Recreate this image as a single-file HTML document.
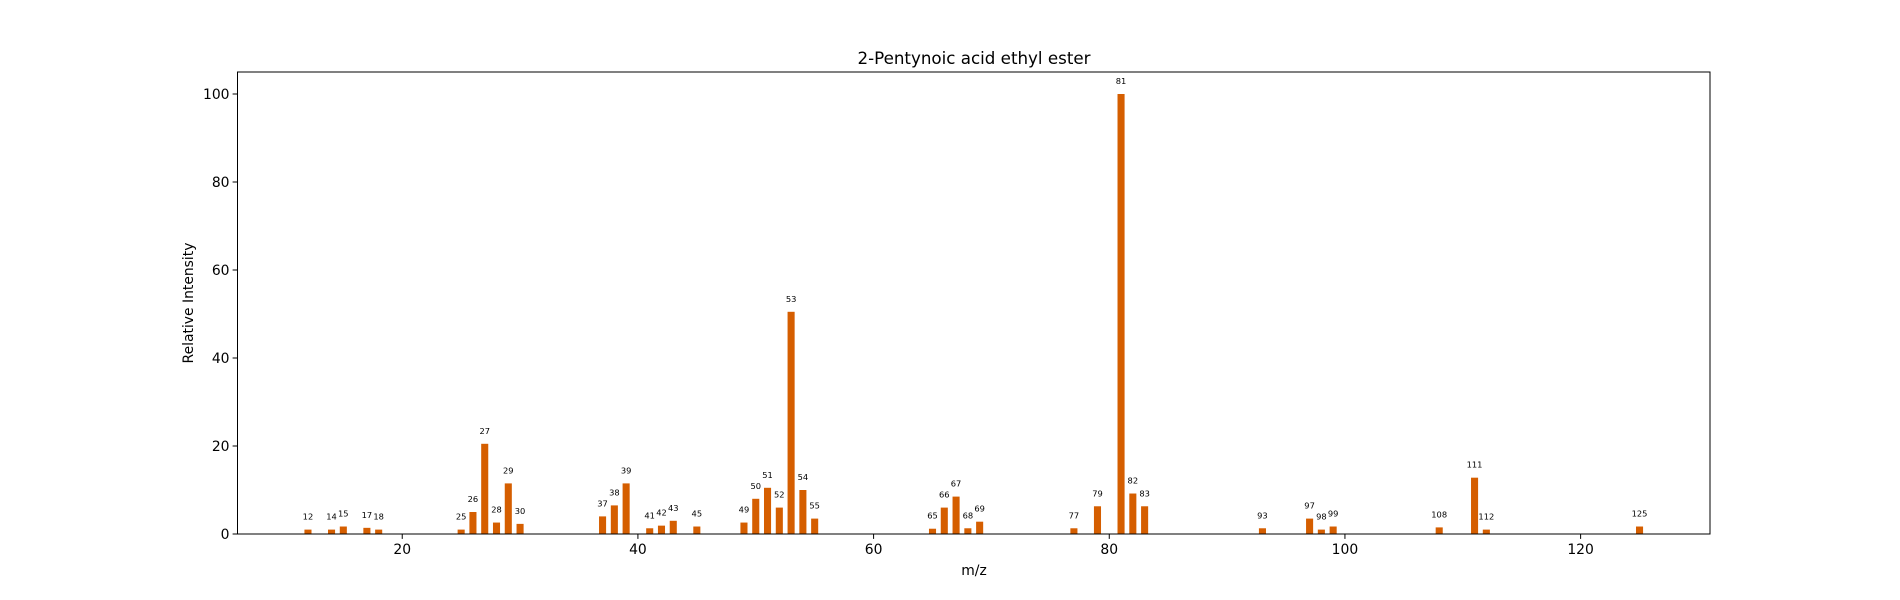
<!DOCTYPE html>
<html><head><meta charset="utf-8"><style>
html,body{margin:0;padding:0;background:#fff;}
svg{display:block;font-family:"DejaVu Sans","Liberation Sans",sans-serif;}
</style></head><body>
<svg id="chart" width="1900" height="600">
<text x="974" y="64" text-anchor="middle" font-size="16.7">2-Pentynoic acid ethyl ester</text>
<g id="bars"></g>
<g id="xticks"></g>
<g id="yticks"></g>
<rect x="237.5" y="72" width="1472.5" height="462" fill="none" stroke="#000" stroke-width="1"/>
<text x="974" y="575" text-anchor="middle" font-size="13.9">m/z</text>
<text x="0" y="0" text-anchor="middle" font-size="13.9" transform="translate(193,303) rotate(-90)">Relative Intensity</text>
</svg>
<script>
const mzValues = [12,14,15,17,18,25,26,27,28,29,30,37,38,39,41,42,43,45,49,50,51,52,53,54,55,65,66,67,68,69,77,79,81,82,83,93,97,98,99,108,111,112,125];
const intensities = [1,1,1.7,1.4,1,1,5,20.5,2.6,11.5,2.3,4,6.5,11.5,1.3,1.9,3,1.7,2.6,8,10.5,6,50.5,10,3.5,1.2,6,8.5,1.3,2.8,1.3,6.3,100,9.2,6.3,1.3,3.5,1,1.7,1.5,12.8,1,1.7];
const xTicks = [20,40,60,80,100,120];
const yTicks = [0,20,40,60,80,100];
const NS='http://www.w3.org/2000/svg';
const L=237.5,R=1710,T=72,B=534;
const barW=0.6;
const xmin=Math.min(...mzValues)-barW/2, xmax=Math.max(...mzValues)+barW/2;
const xm=(xmax-xmin)*0.05;
const x0=xmin-xm, x1=xmax+xm;
const ymax=Math.max(...intensities)*1.05;
const sx=v=>L+(v-x0)/(x1-x0)*(R-L);
const sy=v=>B-v/ymax*(B-T);
const bars=document.getElementById('bars');
mzValues.forEach((m,i)=>{
  const r=document.createElementNS(NS,'rect');
  const xa=sx(m-barW/2), xb=sx(m+barW/2);
  r.setAttribute('x',xa);r.setAttribute('width',xb-xa);
  r.setAttribute('y',sy(intensities[i]));r.setAttribute('height',B-sy(intensities[i]));
  r.setAttribute('fill','#d55e00');
  
  
  bars.appendChild(r);
  const t=document.createElementNS(NS,'text');
  t.setAttribute('x',sx(m));t.setAttribute('y',sy(intensities[i])-10);
  t.setAttribute('text-anchor','middle');t.setAttribute('font-size','8.3');
  t.textContent=m;
  
  
  bars.appendChild(t);
});
const xg=document.getElementById('xticks');
xTicks.forEach(v=>{
  const l=document.createElementNS(NS,'line');
  l.setAttribute('x1',sx(v));l.setAttribute('x2',sx(v));l.setAttribute('y1',B);l.setAttribute('y2',B+4.9);l.setAttribute('stroke','#000');
  
  
  xg.appendChild(l);
  const t=document.createElementNS(NS,'text');
  t.setAttribute('x',sx(v));t.setAttribute('y',B+20);t.setAttribute('text-anchor','middle');t.setAttribute('font-size','13.9');
  t.textContent=v;
  
  
  xg.appendChild(t);
});
const yg=document.getElementById('yticks');
yTicks.forEach(v=>{
  const l=document.createElementNS(NS,'line');
  l.setAttribute('x1',L-4.9);l.setAttribute('x2',L);l.setAttribute('y1',sy(v));l.setAttribute('y2',sy(v));l.setAttribute('stroke','#000');
  
  
  yg.appendChild(l);
  const t=document.createElementNS(NS,'text');
  t.setAttribute('x',L-8);t.setAttribute('y',sy(v)+5);t.setAttribute('text-anchor','end');t.setAttribute('font-size','13.9');
  t.textContent=v;
  
  
  yg.appendChild(t);
});
</script>
</body></html>
